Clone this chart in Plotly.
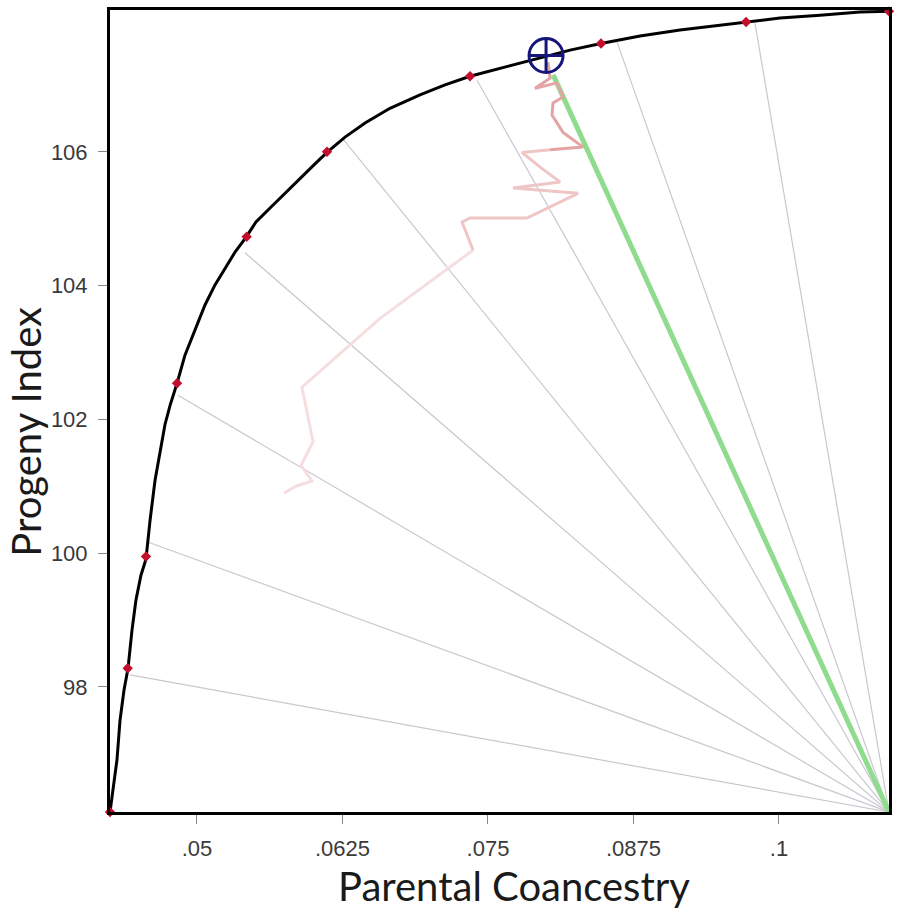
import plotly.graph_objects as go

# efficiency frontier (black curve)
frontier_x = [0.04253, 0.04279, 0.04313, 0.04339, 0.04373, 0.04408, 0.04442, 0.04476, 0.04519, 0.04562,
              0.04597, 0.04640, 0.04683, 0.04725, 0.04769, 0.04829, 0.04897, 0.04983, 0.05069, 0.05155,
              0.05241, 0.05327, 0.05421, 0.05507, 0.05628, 0.05756, 0.05885, 0.06014, 0.06117, 0.06272,
              0.06444, 0.06658, 0.06916, 0.07131, 0.07346, 0.07604, 0.07861, 0.07999, 0.08205, 0.08471,
              0.08806, 0.09150, 0.09494, 0.09717, 0.10009, 0.10353, 0.10696, 0.10945]
frontier_y = [96.13, 96.46, 96.91, 97.50, 97.95, 98.28, 98.85, 99.30, 99.67, 99.91,
              100.49, 101.09, 101.54, 101.92, 102.21, 102.54, 102.96, 103.33, 103.71, 104.01,
              104.26, 104.50, 104.72, 104.95, 105.16, 105.38, 105.61, 105.82, 105.99, 106.22,
              106.43, 106.65, 106.85, 107.00, 107.13, 107.25, 107.36, 107.43, 107.52, 107.62,
              107.73, 107.82, 107.89, 107.94, 108.00, 108.04, 108.09, 108.10]

# red diamonds on the frontier
solution_x = [0.04253, 0.04405, 0.04562, 0.04829, 0.05427, 0.06117, 0.07346, 0.08471, 0.09717, 0.10945]
solution_y = [96.13, 98.28, 99.95, 102.54, 104.73, 106.00, 107.13, 107.62, 107.94, 108.10]

# grey rays from the origin corner to the frontier
origin_x, origin_y = 0.10945, 96.13
ray_x = [0.04425, 0.04571, 0.04837, 0.05413, 0.06255, 0.07406, 0.08609, 0.09794]
ray_y = [98.18, 100.17, 102.36, 104.49, 106.19, 107.07, 107.64, 107.92]

# chosen solution (green ray + target)
chosen_x, chosen_y = 0.0806, 107.15
target_x, target_y = 0.07999, 107.44

# optimisation trajectory (pink)
path_x = [0.05748, 0.05851, 0.05988, 0.05894, 0.05997, 0.05902, 0.06573, 0.07372, 0.07277, 0.07346,
          0.07835, 0.08274, 0.07715, 0.08119, 0.07956, 0.07793, 0.08033, 0.08317, 0.08145, 0.08050,
          0.08059, 0.08145, 0.08093, 0.07904, 0.08033, 0.08016]
path_y = [100.90, 101.00, 101.08, 101.31, 101.67, 102.48, 103.51, 104.53, 104.95, 105.01,
          105.01, 105.38, 105.46, 105.55, 105.76, 105.99, 106.03, 106.07, 106.29, 106.55,
          106.73, 106.82, 107.03, 106.95, 107.10, 107.34]

tick_vals = [0.05, 0.0625, 0.075, 0.0875, 0.1]
tick_text = [".05", ".0625", ".075", ".0875", ".1"]

fig = go.Figure()

for rx, ry in zip(ray_x, ray_y):
    fig.add_trace(go.Scatter(x=[origin_x, rx], y=[origin_y, ry], mode="lines",
                             line=dict(color="#cac7d0", width=1.2), hoverinfo="skip"))

fig.add_trace(go.Scatter(x=[origin_x, chosen_x], y=[origin_y, chosen_y], mode="lines",
                         line=dict(color="#8fdc8f", width=5), hoverinfo="skip"))

# trajectory fades out towards its start
n = len(path_x)
cuts = [(0, 8, "#f6dede"), (7, 17, "#efc6c6"), (16, n, "#e3a4a4")]
for a, b, col in cuts:
    fig.add_trace(go.Scatter(x=path_x[a:b], y=path_y[a:b], mode="lines",
                             line=dict(color=col, width=3), hoverinfo="skip"))

fig.add_trace(go.Scatter(x=frontier_x, y=frontier_y, mode="lines",
                         line=dict(color="black", width=3), cliponaxis=False))

fig.add_trace(go.Scatter(x=solution_x, y=solution_y, mode="markers", cliponaxis=False,
                         marker=dict(symbol="diamond", size=8, color="#c0102c")))

fig.add_trace(go.Scatter(x=[target_x], y=[target_y], mode="markers", cliponaxis=False,
                         marker=dict(symbol="circle-cross-open", size=34, color="#16167a",
                                     line=dict(width=3, color="#16167a"))))

axis_common = dict(
    showline=True, linecolor="black", linewidth=3, mirror=True,
    showgrid=False, zeroline=False, automargin=False,
    ticks="outside", ticklen=9, tickwidth=1, tickcolor="#888888",
    tickfont=dict(family="Liberation Sans", size=22, color="#3a3a3a"),
)

fig.update_xaxes(**axis_common, range=[0.04253, 0.10945],
                 tickvals=tick_vals, ticktext=tick_text, ticklabelstandoff=6)
fig.update_yaxes(**axis_common, range=[96.13, 108.12],
                 tickvals=[98, 100, 102, 104, 106], ticklabelstandoff=6)

fig.add_annotation(text="Parental Coancestry", xref="paper", yref="paper",
                   x=0.519, y=-0.092, xanchor="center", yanchor="middle",
                   showarrow=False, font=dict(family="Lato", size=40, color="#1a1a1a"))
fig.add_annotation(text="Progeny Index", xref="paper", yref="paper",
                   x=-0.108, y=0.474, xanchor="center", yanchor="middle", textangle=-90,
                   showarrow=False, font=dict(family="Lato", size=40, color="#1a1a1a"))

fig.update_layout(
    width=898, height=909,
    margin=dict(l=110, r=9, t=10, b=97),
    plot_bgcolor="white", paper_bgcolor="white",
    showlegend=False,
)

# drop the page's default body margin so the figure sits at the top-left corner
fig.write_html("out.html", config={"displayModeBar": False},
               post_script="document.body.style.margin='0';")
